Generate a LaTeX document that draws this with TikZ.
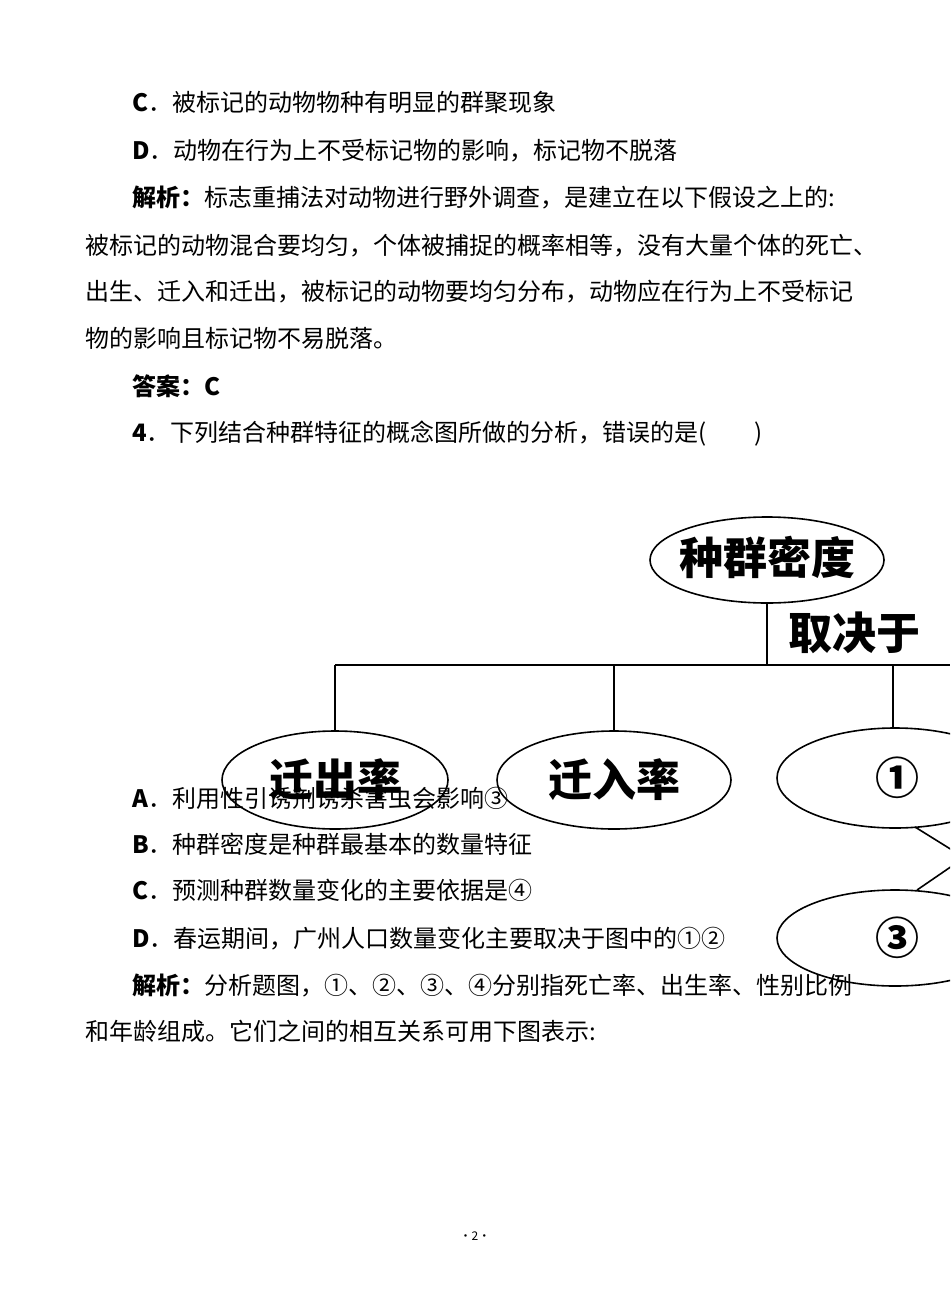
\documentclass[tikz,border=0pt]{standalone}
\usepackage{fontspec}
\setmainfont{Noto Sans CJK SC}
\tikzset{
  tl/.style={anchor=base west,inner sep=0pt,font=\fontsize{24}{26}\selectfont},
  dl/.style={font=\fontsize{44}{46}\selectfont\bfseries,inner sep=0pt},
  ln/.style={line width=1.6pt}
}
\begin{document}
\begin{tikzpicture}[x=1pt,y=-1pt]
\useasboundingbox (0,0) rectangle (950,1316);
\begin{scope}
\clip (0,0) rectangle (950,1316);
\draw[ln] (767,560) ellipse [x radius=117,y radius=43];
\node[dl] (top) at (767,557) {种群密度};
\coordinate (tb) at (767,603);
\coordinate (bar) at (767,665);
\draw[ln] (tb) -- (bar);
\node[dl,anchor=west] (qj) at (788,633) {取决于};
\draw[ln] (335,665) -- (950,665);
\draw[ln] (335,665) -- (335,731);
\draw[ln] (614,665) -- (614,731);
\draw[ln] (893,665) -- (893,729);
\draw[ln] (335,780) ellipse [x radius=113,y radius=49];
\draw[ln] (614,780) ellipse [x radius=117,y radius=49];
\draw[ln] (895,778) ellipse [x radius=118,y radius=50];
\draw[ln] (895,938) ellipse [x radius=118,y radius=48];
\node[dl] (e1) at (335,780) {迁出率};
\node[dl] (e2) at (614,780) {迁入率};
\node[dl] (e3) at (897,778) {①};
\node[dl] (e4) at (897,938) {③};
\draw[ln] (915,827) -- (952,850);
\draw[ln] (952,866) -- (917,890);
\end{scope}
\node[tl] (l1) at (132,112) {\textbf{C}．被标记的动物物种有明显的群聚现象};
\node[tl] (l2) at (132,160) {\textbf{D}．动物在行为上不受标记物的影响，标记物不脱落};
\node[tl] (l3) at (132,207) {\textbf{解析：}标志重捕法对动物进行野外调查，是建立在以下假设之上的:};
\node[tl] (l4) at (85,254) {被标记的动物混合要均匀，个体被捕捉的概率相等，没有大量个体的死亡、};
\node[tl] (l5) at (85,300) {出生、迁入和迁出，被标记的动物要均匀分布，动物应在行为上不受标记};
\node[tl] (l6) at (85,347) {物的影响且标记物不易脱落。};
\node[tl] (l7) at (132,395) {\textbf{答案：C}};
\node[tl] (l8) at (132,441) {\textbf{4}．下列结合种群特征的概念图所做的分析，错误的是(\hspace{2em})};
\node[tl] (l9) at (132,807) {\textbf{A}．利用性引诱剂诱杀害虫会影响③};
\node[tl] (l10) at (132,853) {\textbf{B}．种群密度是种群最基本的数量特征};
\node[tl] (l11) at (132,899) {\textbf{C}．预测种群数量变化的主要依据是④};
\node[tl] (l12) at (132,947) {\textbf{D}．春运期间，广州人口数量变化主要取决于图中的①②};
\node[tl] (l13) at (132,994) {\textbf{解析：}分析题图，①、②、③、④分别指死亡率、出生率、性别比例};
\node[tl] (l14) at (85,1040) {和年龄组成。它们之间的相互关系可用下图表示:};
\node[font=\fontsize{12}{12}\selectfont] (pg) at (475,1236) {·2·};
\end{tikzpicture}
\end{document}
